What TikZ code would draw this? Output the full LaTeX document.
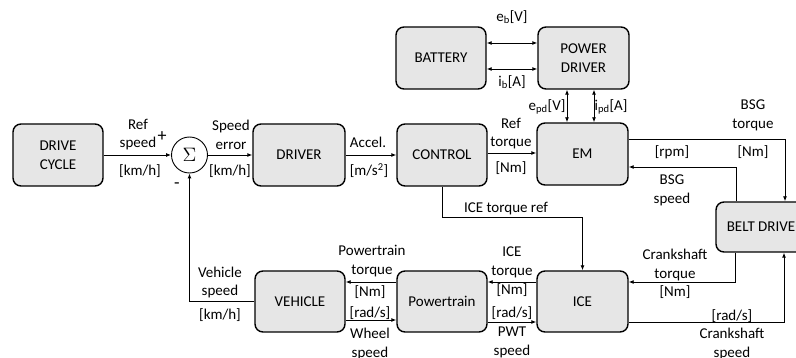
\documentclass[tikz,border=0pt]{standalone}
\usepackage{fontspec}
\usepackage{graphicx}
\setmainfont{Carlito}
\usetikzlibrary{arrows.meta}
\definecolor{boxfill}{HTML}{E6E6E6}
\tikzset{
  blk/.style={draw=black, line width=1.4pt, fill=boxfill, rounded corners=8pt,
    minimum width=90pt, minimum height=62pt, inner sep=0pt, align=center},
  arr/.style={line width=0.9pt, -{Latex[length=5pt,width=4pt]}},
  darr/.style={line width=0.9pt, {Latex[length=5pt,width=4pt]}-{Latex[length=5pt,width=4pt]}},
  lbl/.style={inner sep=0pt, align=center}
}
\begin{document}
\begin{tikzpicture}[x=1pt,y=-1pt,font=\fontsize{15}{18.5}\selectfont]
\clip (0,0) rectangle (796,358);
% blocks
\node[blk] (dc) at (58,155) {DRIVE\\CYCLE};
\node[draw=black, line width=0.9pt, circle, minimum size=36pt, inner sep=0pt] (sum) at (189.5,155) {\scalebox{1.35}{$\Sigma$}};
\node[blk, minimum width=92pt] (driver) at (299,155) {DRIVER};
\node[blk] (control) at (442,155) {CONTROL};
\node[blk, minimum width=91pt] (em) at (582.5,154) {EM};
\node[blk] (battery) at (441,58) {BATTERY};
\node[blk, minimum width=91pt] (pd) at (583.5,58) {POWER\\DRIVER};
\node[blk, minimum height=50pt] (belt) at (761,227) {BELT DRIVE};
\node[blk, minimum height=61pt] (vehicle) at (300,301.5) {VEHICLE};
\node[blk, minimum height=61pt] (pt) at (442,301.5) {Powertrain};
\node[blk, minimum width=91pt, minimum height=61pt] (ice) at (582.5,301.5) {ICE};
% connectors
\draw[arr] (dc.east) -- (sum.west);
\draw[arr] (sum.east) -- (driver.west);
\draw[arr] (driver.east) -- (control.west);
\draw[arr] (control.east |- 0,153) -- (em.west |- 0,153);
\draw[darr] (battery.east |- 0,43) -- (pd.west |- 0,43);
\draw[darr] (battery.east |- 0,69) -- (pd.west |- 0,69);
\draw[darr] (pd.south -| 567,0) -- (em.north -| 567,0);
\draw[darr] (pd.south -| 594,0) -- (em.north -| 594,0);
\draw[arr] (em.east |- 0,139) -| (belt.north -| 785,0);
\draw[arr] (belt.north -| 736,0) |- (em.east |- 0,167);
\draw[arr] (control.south) -- ++(0,31) -| (ice.north);
\draw[arr] (belt.south -| 735,0) |- (ice.east |- 0,282);
\draw[arr] (ice.east |- 0,322) -| (belt.south -| 784,0);
\draw[arr] (ice.west |- 0,282) -- (pt.east |- 0,282);
\draw[arr] (pt.east |- 0,322) -- (ice.west |- 0,322);
\draw[arr] (pt.west |- 0,282) -- (vehicle.east |- 0,282);
\draw[arr] (vehicle.east |- 0,320) -- (pt.west |- 0,320);
\draw[arr] (vehicle.west) -| (sum.south);
% labels
\node[lbl] (l1) at (138,134.5) {Ref\\speed};
\node[lbl, font=\fontsize{18}{18}\selectfont] (l1p) at (162,137) {+};
\node[lbl] (l1u) at (140,171) {[km/h]};
\node[lbl, font=\fontsize{18}{18}\selectfont] (l1m) at (177,186) {-};
\node[lbl] (l2) at (231,135) {Speed\\error};
\node[lbl] (l2u) at (230,171) {[km/h]};
\node[lbl] (l3) at (368,142) {Accel.};
\node[lbl] (l3u) at (369,171) {[m/s\textsuperscript{2}]};
\node[lbl] (l4) at (511,133.5) {Ref\\torque};
\node[lbl] (l4u) at (511,168) {[Nm]};
\node[lbl] (l5) at (512,17) {e\textsubscript{b}[V]};
\node[lbl] (l6) at (512,82) {i\textsubscript{b}[A]};
\node[lbl] (l7) at (547,107) {e\textsubscript{pd}[V]};
\node[lbl] (l8) at (611,107) {i\textsubscript{pd}[A]};
\node[lbl] (l9) at (753,115.5) {BSG\\torque};
\node[lbl] (l9u) at (753,152) {[Nm]};
\node[lbl] (l10u) at (672,152) {[rpm]};
\node[lbl] (l10) at (672,190.5) {BSG\\speed};
\node[lbl] (l11) at (506,209) {ICE torque ref};
\node[lbl] (l12) at (675,265) {Crankshaft\\torque};
\node[lbl] (l12u) at (675,292) {[Nm]};
\node[lbl] (l13u) at (732,316) {[rad/s]};
\node[lbl] (l13) at (732,344) {Crankshaft\\speed};
\node[lbl] (l14) at (512,262.5) {ICE\\torque};
\node[lbl] (l14u) at (512,290) {[Nm]};
\node[lbl] (l15u) at (512,313) {[rad/s]};
\node[lbl] (l15) at (512,342.5) {PWT\\speed};
\node[lbl] (l16) at (372,261) {Powertrain\\torque};
\node[lbl] (l16u) at (370,292) {[Nm]};
\node[lbl] (l17u) at (370,313) {[rad/s]};
\node[lbl] (l17) at (370,344) {Wheel\\speed};
\node[lbl] (l18) at (220,282.5) {Vehicle\\speed};
\node[lbl] (l18u) at (220,315) {[km/h]};
\end{tikzpicture}
\end{document}
